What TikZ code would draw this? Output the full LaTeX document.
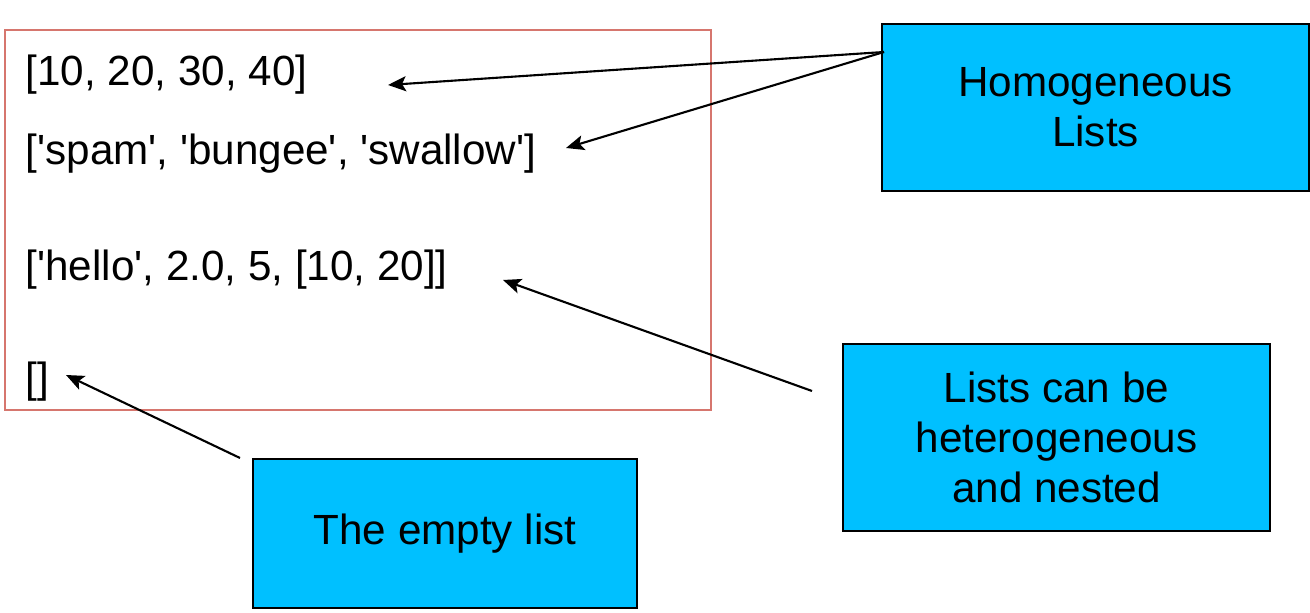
\documentclass[tikz,border=0pt]{standalone}
\usepackage{fontspec}
\setmainfont{Liberation Sans}
\usetikzlibrary{arrows.meta}

\definecolor{calloutblue}{RGB}{0,192,255}
\definecolor{listred}{RGB}{214,118,110}

\newcommand{\sq}{\textquotesingle}

\tikzset{
  listtext/.style={anchor=west, inner sep=0pt, font=\fontsize{12}{14.2}\selectfont},
  callout/.style={draw=black, line width=0.7pt, fill=calloutblue, align=center,
    inner sep=0pt, font=\fontsize{12}{14.2}\selectfont},
  pointer/.style={line width=0.6pt, -{Stealth[length=1.8mm, width=1.5mm, inset=0.4mm]}}
}

\begin{document}
\begin{tikzpicture}[x=0.01cm, y=-0.01cm]
\useasboundingbox (0,0) rectangle (1310,613);

% box round the lists
\draw[listred, line width=0.6pt] (5,30) rectangle (711,410);

\node[listtext] (nums) at (25,75) {[10, 20, 30, 40]};
\node[listtext] (words) at (25,154) {[\sq spam\sq, \sq bungee\sq, \sq swallow\sq]};
\node[listtext] (mixed) at (25,270) {[\sq hello\sq, 2.0, 5, [10, 20]]};
\node[listtext] (empty) at (25,382) {[]};

%%%%%%%%%%%%%%%%%%%%%%%%%%%%
\node[callout, minimum width=4.27cm, minimum height=1.67cm] (homog) at (1095.5,107.5)
  {Homogeneous\\Lists};
\node[callout, minimum width=4.27cm, minimum height=1.87cm] (hetero) at (1056.5,437.5)
  {Lists can be\\heterogeneous\\and nested};
\node[callout, minimum width=3.84cm, minimum height=1.49cm] (emptynote) at (445,533.5)
  {The empty list};

%%%%%%%%%%%%%%%%%%%%%%%%%%%%
\coordinate (homogstart) at (884,52);
\coordinate (numstip) at (388,85);
\coordinate (wordstip) at (566,148);
\coordinate (heterostart) at (812,391);
\coordinate (mixedtip) at (503,280);
\coordinate (emptystart) at (240,458);
\coordinate (emptytip) at (66,375);

\draw[pointer] (homogstart) -- (numstip);
\draw[pointer] (homogstart) -- (wordstip);
\draw[pointer] (heterostart) -- (mixedtip);
\draw[pointer] (emptystart) -- (emptytip);
\end{tikzpicture}
\end{document}
